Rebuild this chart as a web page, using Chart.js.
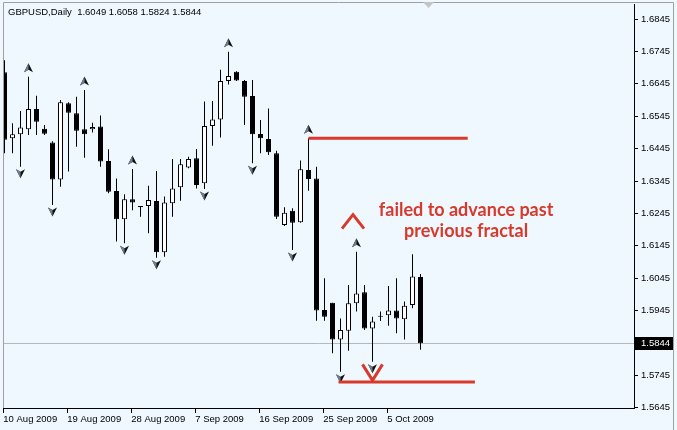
<!DOCTYPE html>
<html>
<head>
<meta charset="utf-8">
<script src="https://cdn.jsdelivr.net/npm/chart.js@4/dist/chart.umd.min.js"></script>
<style>
  html, body { margin: 0; padding: 0; background: #f0f8ff; }
  #wrap { width: 677px; height: 430px; }
</style>
</head>
<body>
<div id="wrap"><canvas id="c" width="677" height="430"></canvas></div>
<script>
// GBPUSD daily bars (broker feed includes Sunday bars), 10 Aug - 9 Oct 2009
const opens  = [1.6681, 1.6477, 1.6489, 1.6505, 1.6567, 1.6506, 1.6464, 1.6350, 1.6585, 1.6554,
                1.6505, 1.6505, 1.6513, 1.6407, 1.6314, 1.6227, 1.6289, 1.6268, 1.6268, 1.6283,
                1.6125, 1.6276, 1.6326, 1.6387, 1.6415, 1.6338, 1.6515, 1.6535, 1.6654, 1.6682,
                1.6654, 1.6607, 1.6490, 1.6475, 1.6431, 1.6209, 1.6253, 1.6218, 1.6379, 1.6353,
                1.5947, 1.5969, 1.5856, 1.5883, 1.5968, 1.6002, 1.5890, 1.5926, 1.5931, 1.5945,
                1.5918, 1.5962, 1.6049];
const highs  = [1.6718, 1.6523, 1.6561, 1.6667, 1.6608, 1.6518, 1.6468, 1.6595, 1.6588, 1.6605,
                1.6626, 1.6525, 1.6547, 1.6443, 1.6353, 1.6304, 1.6382, 1.6268, 1.6330, 1.6376,
                1.6297, 1.6413, 1.6413, 1.6420, 1.6444, 1.6590, 1.6592, 1.6688, 1.6744, 1.6684,
                1.6657, 1.6657, 1.6533, 1.6569, 1.6438, 1.6264, 1.6261, 1.6408, 1.6477, 1.6389,
                1.6045, 1.5969, 1.5921, 1.6024, 1.6127, 1.6024, 1.5926, 1.5942, 1.6021, 1.6045,
                1.5973, 1.6119, 1.6058];
const lows   = [1.6431, 1.6431, 1.6389, 1.6487, 1.6487, 1.6487, 1.6271, 1.6327, 1.6374, 1.6451,
                1.6417, 1.6495, 1.6389, 1.6307, 1.6158, 1.6153, 1.6255, 1.6235, 1.6184, 1.6108,
                1.6111, 1.6235, 1.6284, 1.6384, 1.6322, 1.6320, 1.6454, 1.6479, 1.6643, 1.6654,
                1.6518, 1.6400, 1.6431, 1.6425, 1.6228, 1.6206, 1.6132, 1.6216, 1.6315, 1.5914,
                1.5914, 1.5813, 1.5756, 1.5821, 1.5942, 1.5885, 1.5787, 1.5913, 1.5898, 1.5875,
                1.5856, 1.5952, 1.5824];
const closes = [1.6472, 1.6489, 1.6510, 1.6567, 1.6528, 1.6491, 1.6350, 1.6588, 1.6556, 1.6500,
                1.6489, 1.6512, 1.6405, 1.6312, 1.6227, 1.6289, 1.6279, 1.6264, 1.6286, 1.6125,
                1.6279, 1.6322, 1.6397, 1.6413, 1.6333, 1.6515, 1.6535, 1.6654, 1.6669, 1.6655,
                1.6605, 1.6489, 1.6477, 1.6434, 1.6235, 1.6247, 1.6216, 1.6381, 1.6351, 1.5945,
                1.5926, 1.5856, 1.5885, 1.5968, 1.5998, 1.5890, 1.5911, 1.5926, 1.5945, 1.5921,
                1.5960, 1.6050, 1.5844];

const dateLabels  = ['10 Aug 2009', '19 Aug 2009', '28 Aug 2009', '7 Sep 2009', '16 Sep 2009', '25 Sep 2009', '5 Oct 2009'];
const dateTickIdx = [0, 8, 16, 24, 32, 40, 48];
const priceTicks  = [1.6845, 1.6745, 1.6645, 1.6545, 1.6445, 1.6345, 1.6245, 1.6145, 1.6045, 1.5945, 1.5745, 1.5645];

// Bill Williams fractals as shown on the chart (bar indexes)
const upFractals   = [3, 10, 16, 28, 38, 44];
const downFractals = [2, 6, 15, 19, 25, 31, 36, 42, 46];

// hand-drawn annotation levels
const resistance     = 1.6477;
const resistanceSpan = [38, 57.9];
const support        = 1.5725;
const supportSpan    = [41.75, 58.8];
const noteLines      = ['failed to advance past', 'previous fractal'];
const noteIdx        = 57.7;
const noteLevel      = 1.6256;

const RED = '#d8392b';
const AXIS_FONT = '9.5px "Liberation Sans", Arial, sans-serif';

function drawFractal(ctx, x, y, up) {
  ctx.save();
  ctx.translate(x, y);
  ctx.scale(1, up ? 1 : -1);
  ctx.beginPath();
  ctx.moveTo(0, -5); ctx.lineTo(4.5, 4); ctx.lineTo(0, 1.5); ctx.lineTo(-4.5, 4); ctx.closePath();
  ctx.fillStyle = '#111';
  ctx.fill();
  ctx.beginPath();
  ctx.moveTo(0, -5); ctx.lineTo(0, 1.5); ctx.lineTo(-4.5, 4); ctx.closePath();
  ctx.fillStyle = '#6f7f92';
  ctx.fill();
  ctx.restore();
}

const mtPlugin = {
  id: 'mt',
  beforeDraw(chart) {
    const { ctx, width, height } = chart;
    ctx.save();
    ctx.fillStyle = '#f0f8ff';
    ctx.fillRect(0, 0, width, height);
    ctx.restore();
  },
  beforeDatasetsDraw(chart) {
    // last price line
    const { ctx, chartArea: a, scales: { y } } = chart;
    const py = Math.round(y.getPixelForValue(closes[closes.length - 1])) + 0.5;
    ctx.save();
    ctx.strokeStyle = '#b8b8b8';
    ctx.lineWidth = 1;
    ctx.beginPath(); ctx.moveTo(a.left, py); ctx.lineTo(a.right, py); ctx.stroke();
    ctx.restore();
  },
  afterDatasetsDraw(chart) {
    const { ctx, scales: { x, y } } = chart;
    upFractals.forEach(i => drawFractal(ctx, x.getPixelForValue(i), y.getPixelForValue(highs[i]) - 8.5, true));
    downFractals.forEach(i => drawFractal(ctx, x.getPixelForValue(i), y.getPixelForValue(lows[i]) + 6.5, false));

    ctx.save();
    ctx.strokeStyle = RED;
    ctx.lineWidth = 3;
    // horizontal levels
    let ry = y.getPixelForValue(resistance);
    ctx.beginPath(); ctx.moveTo(x.getPixelForValue(resistanceSpan[0]), ry); ctx.lineTo(x.getPixelForValue(resistanceSpan[1]), ry); ctx.stroke();
    let sy = y.getPixelForValue(support);
    ctx.beginPath(); ctx.moveTo(x.getPixelForValue(supportSpan[0]), sy); ctx.lineTo(x.getPixelForValue(supportSpan[1]), sy); ctx.stroke();

    // chevron over the lower high, V under the higher low
    const cx1 = x.getPixelForValue(44) - 3.5;
    const ty1 = y.getPixelForValue(highs[44]) - 37;
    ctx.beginPath(); ctx.moveTo(cx1 - 11, ty1 + 14); ctx.lineTo(cx1, ty1); ctx.lineTo(cx1 + 11, ty1 + 14); ctx.stroke();
    const cx2 = x.getPixelForValue(46);
    const ty2 = sy - 1.5;
    ctx.beginPath(); ctx.moveTo(cx2 - 10, ty2 - 16); ctx.lineTo(cx2, ty2); ctx.lineTo(cx2 + 10, ty2 - 16); ctx.stroke();

    // note
    ctx.fillStyle = RED;
    ctx.font = 'bold 18px Lato, "Open Sans", sans-serif';
    ctx.textAlign = 'center';
    ctx.textBaseline = 'middle';
    const nx = x.getPixelForValue(noteIdx);
    const ny = y.getPixelForValue(noteLevel);
    noteLines.forEach((t, k) => ctx.fillText(t, nx, ny + k * 21));
    ctx.restore();
  },
  afterDraw(chart) {
    const { ctx, chartArea: a, scales: { x, y } } = chart;
    ctx.save();
    // window frame
    ctx.strokeStyle = '#a0a0a0';
    ctx.lineWidth = 1;
    ctx.beginPath();
    ctx.moveTo(3.5, a.bottom); ctx.lineTo(3.5, 2.5); ctx.lineTo(673.5, 2.5); ctx.lineTo(673.5, 430);
    ctx.stroke();

    // chart shift marker
    const sx = x.getPixelForValue(closes.length);
    ctx.fillStyle = '#c4c4c4';
    ctx.beginPath(); ctx.moveTo(sx - 5.5, 2); ctx.lineTo(sx + 5.5, 2); ctx.lineTo(sx, 8); ctx.closePath(); ctx.fill();

    // title
    ctx.fillStyle = '#000';
    ctx.font = AXIS_FONT;
    ctx.textAlign = 'left';
    ctx.textBaseline = 'middle';
    const last = closes.length - 1;
    ctx.fillText('GBPUSD,Daily  ' + [opens[last], highs[last], lows[last], closes[last]].map(v => v.toFixed(4)).join(' '), 8, 12);

    // last price box on the axis
    const py = Math.round(y.getPixelForValue(closes[last]));
    ctx.fillStyle = '#000';
    ctx.fillRect(a.right + 1, py - 6, 38, 13);
    ctx.fillStyle = '#fff';
    ctx.fillText(closes[last].toFixed(4), a.right + 7, py + 0.5);
    ctx.restore();
  }
};

const idx = closes.map((_, i) => i);
const bodyData = idx.map(i => ({ x: i, y: [opens[i], closes[i]] }));
const wickData = idx.map(i => ({ x: i, y: [lows[i], highs[i]] }));

new Chart(document.getElementById('c'), {
  type: 'bar',
  data: {
    datasets: [
      {
        label: 'body',
        data: bodyData,
        order: 0,
        barThickness: 5,
        minBarLength: 1,
        backgroundColor: ctx => closes[ctx.dataIndex] >= opens[ctx.dataIndex] ? '#ffffff' : '#000000',
        borderColor: '#000',
        borderWidth: 1,
        borderSkipped: false,
        inflateAmount: 0
      },
      {
        label: 'wick',
        data: wickData,
        order: 1,
        barThickness: 1,
        backgroundColor: '#000',
        borderWidth: 0,
        inflateAmount: 0
      }
    ]
  },
  options: {
    responsive: false,
    animation: false,
    devicePixelRatio: 1,
    layout: { padding: { left: 3, top: 4, right: 0, bottom: 0 } },
    datasets: { bar: { grouped: false } },
    plugins: { legend: { display: false }, tooltip: { enabled: false } },
    scales: {
      x: {
        type: 'linear',
        min: -0.1875,
        max: 78.6875,
        offset: false,
        bounds: 'data',
        afterBuildTicks: s => { s.ticks = dateTickIdx.map(i => ({ value: i - 0.15 })); },
        afterFit: s => { s.height = 22; s.paddingLeft = 0; s.paddingRight = 0; },
        grid: { offset: false, drawOnChartArea: false, tickLength: 5, tickColor: '#000' },
        border: { color: '#000' },
        ticks: {
          autoSkip: false, maxRotation: 0, align: 'start', padding: 1,
          color: '#000', font: { family: '"Liberation Sans", Arial, sans-serif', size: 9.5 },
          callback: (v, i) => dateLabels[i]
        }
      },
      y: {
        position: 'right',
        min: 1.56444,
        max: 1.68913,
        afterBuildTicks: s => { s.ticks = priceTicks.map(v => ({ value: v })); },
        afterFit: s => { s.width = 43; s.paddingTop = 0; s.paddingBottom = 0; },
        grid: { drawOnChartArea: false, tickLength: 4, tickColor: '#000' },
        border: { color: '#000' },
        ticks: {
          padding: 3, color: '#000',
          font: { family: '"Liberation Sans", Arial, sans-serif', size: 9.5 },
          callback: v => v.toFixed(4)
        }
      }
    }
  },
  plugins: [mtPlugin]
});
</script>
</body>
</html>
